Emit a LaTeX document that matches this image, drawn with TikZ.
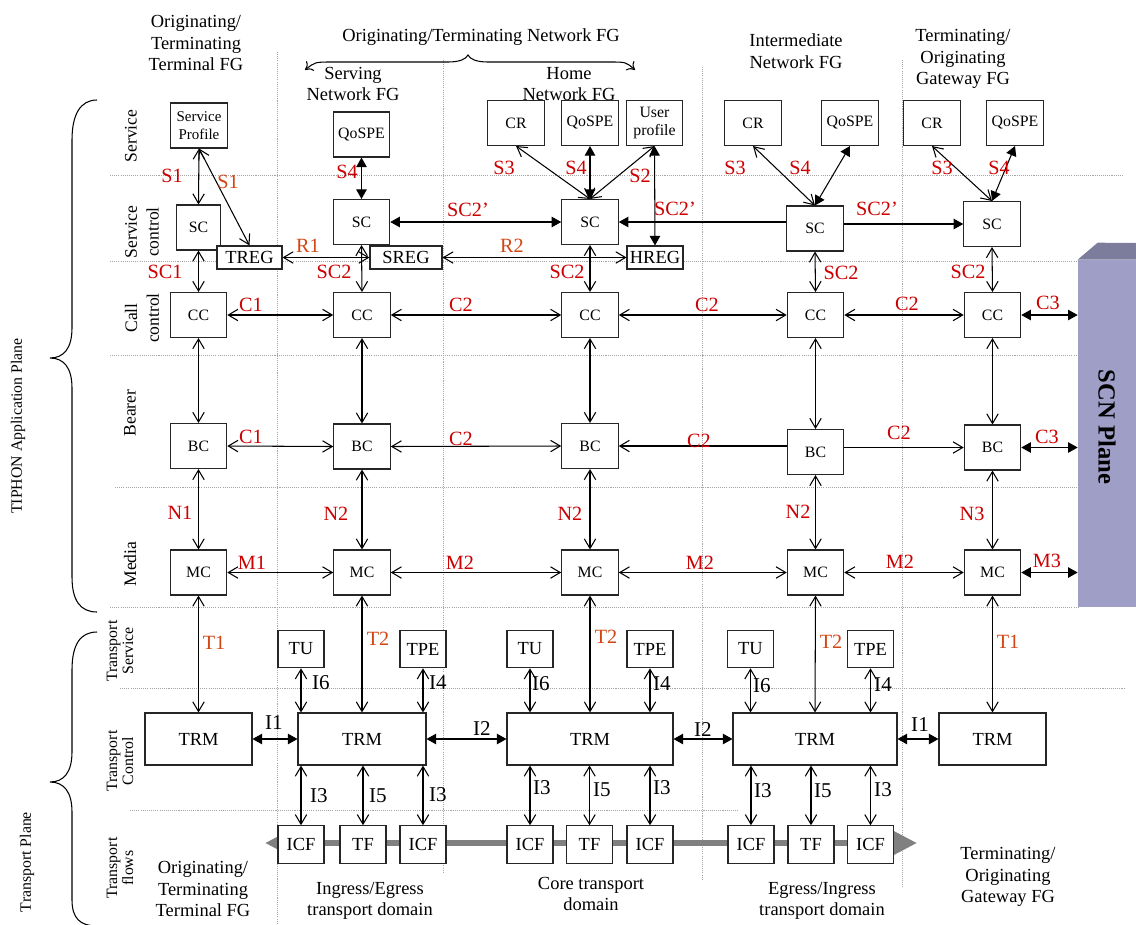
\documentclass[tikz,border=0pt]{standalone}
\usepackage{fontspec}
\setmainfont{Liberation Serif}
\usetikzlibrary{arrows.meta}

\definecolor{tiphonred}{RGB}{204,0,0}
\definecolor{tiphonorange}{RGB}{210,70,20}
\definecolor{scnfront}{RGB}{158,158,198}
\definecolor{scntop}{RGB}{124,124,156}

\tikzset{
  barb/.tip={Straight Barb[length=5.5pt,width=6.5pt]},
  tri/.tip={Triangle[length=5.5pt,width=6pt]},
  box/.style={draw=black!85, fill=white, line width=0.6pt, inner sep=0pt, align=center},
  fgbox/.style={box, font=\fontsize{9}{10.4}\selectfont, minimum width=1.13cm, minimum height=0.9cm},
  regbox/.style={box, font=\fontsize{10.5}{12}\selectfont, minimum height=0.46cm},
  tbox/.style={box, font=\fontsize{10.5}{12}\selectfont, minimum width=0.92cm, minimum height=0.75cm},
  trmbox/.style={box, font=\fontsize{10.5}{12}\selectfont, minimum height=1.04cm},
  lab/.style={font=\fontsize{11.5}{12}\selectfont, text=tiphonred, inner sep=0pt},
  olab/.style={lab, text=tiphonorange},
  ilab/.style={font=\fontsize{12}{12}\selectfont, inner sep=0pt},
  hdr/.style={font=\fontsize{10.5}{12.3}\selectfont, align=center, inner sep=0pt},
  rowlab/.style={font=\fontsize{10}{12.5}\selectfont, align=center, rotate=90, inner sep=0pt},
  trowlab/.style={font=\fontsize{9}{9}\selectfont, align=center, rotate=90, inner sep=0pt},
  gline/.style={black!35, line width=0.5pt, dash pattern=on 0.6pt off 0.6pt},
  link/.style={line width=0.6pt},
  oo/.style={link, barb-barb},
  ff/.style={link, tri-tri},
  bracepath/.style={line width=0.6pt},
  flowline/.style={black!50, line width=3.2pt, {Triangle[length=13.5pt,width=13pt]}-{Triangle[length=13.5pt,width=13pt]}}
}

\begin{document}
\begin{tikzpicture}[x=0.02cm, y=-0.02cm]
\useasboundingbox (0,0) rectangle (1136,924);

% Dotted grid
\foreach \y/\xa/\xb in {175/110/1123, 261/110/1078, 355/110/1078, 487/115/1078, 607/110/1078, 688/120/1125, 810/130/738}
  \draw[gline] (\xa,\y) -- (\xb,\y);
\foreach \x/\ya/\yb in {277/52/924, 443/60/873, 702/67/880, 902/60/887}
  \draw[gline] (\x,\ya) -- (\x,\yb);

% Plane braces
\draw[bracepath] (97,100) .. controls (80,100) and (72,115) .. (72,140) -- (72,328)
  .. controls (72,348) and (64,358) .. (50,358) .. controls (64,358) and (72,368) .. (72,388)
  -- (72,577) .. controls (72,600) and (80,612) .. (97,612);
\draw[bracepath] (97,632) .. controls (80,632) and (72,645) .. (72,670) -- (72,752)
  .. controls (72,772) and (64,782) .. (50,782) .. controls (64,782) and (72,792) .. (72,812)
  -- (72,900) .. controls (72,918) and (80,926) .. (97,926);
\node[font=\fontsize{9}{9}\selectfont, rotate=90] (appplane) at (18,426) {TIPHON Application Plane};
\node[font=\fontsize{9}{9}\selectfont, rotate=90] (trplane) at (27,862) {Transport Plane};

% Network FG brace
\draw[bracepath, {To[length=4pt,width=7pt]}-{To[length=4pt,width=7pt]}] (305,70) .. controls (315,62) .. (332,62) -- (448,62)
  .. controls (460,62) and (466,59) .. (468,55) .. controls (470,59) and (476,62) .. (488,62)
  -- (610,62) .. controls (626,62) .. (635,70);

% Headers
\node[hdr] (h1) at (196,43) {Originating/\\Terminating\\Terminal FG};
\node[hdr] (h2) at (481,37) {Originating/Terminating Network FG};
\node[hdr] (h3) at (353,84) {Serving\\Network FG};
\node[hdr] (h4) at (569,84) {Home\\Network FG};
\node[hdr] (h5) at (796,51) {Intermediate\\Network FG};
\node[hdr] (h6) at (963,59) {Terminating/\\Originating\\Gateway FG};

% Footers
\node[hdr] (f1) at (203,889) {Originating/\\Terminating\\Terminal FG};
\node[hdr] (f2) at (370,901) {Ingress/Egress\\transport domain};
\node[hdr] (f3) at (591,894) {Core transport\\domain};
\node[hdr] (f4) at (822,901) {Egress/Ingress\\transport domain};
\node[hdr] (f5) at (1008,877) {Terminating/\\Originating\\Gateway FG};

% Row labels
\node[rowlab] (rs) at (131,136) {Service};
\node[rowlab] (rsc) at (142,232) {Service\\control};
\node[rowlab] (rcc) at (142,318) {Call\\control};
\node[rowlab] (rbc) at (130,413) {Bearer};
\node[rowlab] (rmc) at (130,564) {Media};
\node[trowlab] (rts) at (120,651) {Transport\\Service};
\node[trowlab] (rtc) at (120,761) {Transport\\Control};
\node[trowlab] (rtf) at (120,868) {Transport\\flows};

% SCN plane
\node[fill=scnfront, inner sep=0pt, minimum width=1.16cm, minimum height=6.94cm] (scn) at (1107,433.5) {};
\fill[scntop] (scn.north west) -- ++(20,-17) -- (1136,243) -- (scn.north east) -- cycle;
\node[rotate=-90, font=\bfseries\fontsize{14}{16}\selectfont] (scntext) at (1107,427) {SCN Plane};

% Transport flow
\coordinate (flowL) at (265,843);
\coordinate (flowR) at (917,843);
\draw[flowline] (flowL) -- (flowR);

% Service row
\node[fgbox, font=\fontsize{8.5}{10.4}\selectfont] (sp) at (199,125.5) {Service\\Profile};
\node[fgbox] (qos2) at (361.5,134.5) {QoSPE};
\node[fgbox] (cr3) at (516,123) {CR};
\node[fgbox] (qos3) at (590,123) {QoSPE};
\node[fgbox] (up3) at (654.5,123) {User\\profile};
\node[fgbox] (cr4) at (753,123) {CR};
\node[fgbox] (qos4) at (850,123) {QoSPE};
\node[fgbox] (cr5) at (932,123) {CR};
\node[fgbox] (qos5) at (1015,123) {QoSPE};

% Service control row
\node[fgbox, minimum width=0.88cm] (sc1) at (198.5,227.5) {SC};
\node[fgbox] (sc2) at (361.5,222) {SC};
\node[fgbox] (sc3) at (590,222) {SC};
\node[fgbox] (sc4) at (815,228.5) {SC};
\node[fgbox] (sc5) at (992,224) {SC};
\node[regbox, minimum width=1.3cm] (treg) at (249.5,257.5) {TREG};
\node[regbox, minimum width=1.44cm] (sreg) at (406,257.5) {SREG};
\node[regbox, minimum width=1.12cm] (hreg) at (655,257.5) {HREG};

% Call control, bearer and media rows
\foreach \n/\x in {1/198.5, 2/362, 3/590, 4/815.5, 5/992.5} {
  \node[fgbox] (cc\n) at (\x,315) {CC};
  \node[fgbox] (mc\n) at (\x,572.5) {MC};
}
\foreach \n/\x/\y in {1/198.5/446, 2/362/446.5, 3/590/446, 4/815.5/452, 5/992.5/447.5}
  \node[fgbox] (bc\n) at (\x,\y) {BC};

% Transport rows
\foreach \n/\x in {2/301, 3/530, 4/750.5} \node[tbox] (tu\n) at (\x,649) {TU};
\foreach \n/\x in {2/423, 3/650, 4/870.5} \node[tbox] (tpe\n) at (\x,649) {TPE};
\foreach \n/\x/\w in {1/198.5/2.14, 2/362/2.56, 3/590/3.32, 4/815/3.28, 5/992.5/2.14}
  \node[trmbox, minimum width=\w cm] (trm\n) at (\x,739) {TRM};
\foreach \n/\xa/\xb/\xc in {2/301/363/423, 3/530/589.5/650, 4/751/811/870.5} {
  \node[tbox] (icfa\n) at (\xa,844.5) {ICF};
  \node[tbox] (tf\n) at (\xb,844.5) {TF};
  \node[tbox] (icfb\n) at (\xc,844.5) {ICF};
}

% Service plane links
\draw[oo] (sp.south) -- (sc1.north);
\draw[oo] (sp.south) -- (treg.north);
\draw[oo] (treg.east) -- (sreg.west);
\draw[oo] (sreg.east) -- (hreg.west);
\draw[ff] (qos2.south) -- (sc2.north);
\draw[ff] (sc2.east) -- (sc3.west);
\draw[oo] (cr3.south) -- (sc3.north);
\draw[ff] (qos3.south) -- (sc3.north);
\draw[oo] (up3.south) -- (sc3.north);
\draw[ff] (up3.south) -- (hreg.north);
\draw[link, -tri] (sc4.west |- sc3.east) -- (sc3.east);
\draw[oo] (cr4.south) -- (sc4.north);
\draw[ff] (qos4.south) -- (sc4.north);
\draw[link, -tri] (sc4.east |- sc5.west) -- (sc5.west);
\draw[oo] (cr5.south) -- (sc5.north);
\draw[ff] (qos5.south) -- (sc5.north);
\foreach \n in {1,...,5} \draw[oo] (sc\n.south) -- (cc\n.north);

% Call, bearer and media links
\foreach \a/\b in {1/2, 2/3, 3/4, 4/5} {
  \draw[oo] (cc\a.east) -- (cc\b.west);
  \draw[oo] (mc\a.east) -- (mc\b.west);
}
\draw[oo] (bc1.east) -- (bc2.west);
\draw[oo] (bc2.east) -- (bc3.west);
\draw[link, -barb] (bc4.west |- bc3.east) -- (bc3.east);
\draw[link, -barb] (bc4.east |- bc5.west) -- (bc5.west);
\foreach \r in {cc,bc,mc} \draw[ff] (\r5.east) -- (\r5.east -| scn.west);
\foreach \n in {1,...,5} {
  \draw[oo] (cc\n.south) -- (bc\n.north);
  \draw[oo] (bc\n.south) -- (mc\n.north);
  \draw[oo] (mc\n.south) -- (trm\n.north);
}

% Transport links
\foreach \a/\b in {1/2, 2/3, 3/4, 4/5} \draw[ff] (trm\a.east) -- (trm\b.west);
\foreach \n in {2,3,4} {
  \draw[oo] (tu\n.south) -- (tu\n.south |- trm\n.north);
  \draw[oo] (tpe\n.south) -- (tpe\n.south |- trm\n.north);
  \draw[oo] (icfa\n.north |- trm\n.south) -- (icfa\n.north);
  \draw[oo] (tf\n.north |- trm\n.south) -- (tf\n.north);
  \draw[oo] (icfb\n.north |- trm\n.south) -- (icfb\n.north);
}

% Reference point labels
\foreach \t/\x/\y [count=\i] in {S1/172/176, SC1/165/272, SC2/334/272, S4/347/172, SC2’/468/210,
    S3/504/168, S4/576/168, S2/640/176, SC2’/675/209, SC2/567/272, S3/735/168, S4/800/168,
    SC2’/877/209, SC2/841/273, S3/942/168, S4/999/168, SC2/968/272,
    C1/251/305, C2/461/305, C2/707/305, C2/907/304, C3/1048/303,
    C1/251/437, C2/461/439, C2/699/441, C2/899/433, C3/1047/437,
    N1/180/513, N2/336/514, N2/570/514, N2/798/512, N3/972/514,
    M1/252/563, M2/460/563, M2/700/563, M2/900/562, M3/1047/561}
  \node[lab] (r\i) at (\x,\y) {\t};
\foreach \t/\x/\y [count=\i] in {S1/228/182, R1/308/246, R2/512/246, T1/214/643, T2/378/639,
    T2/606/637, T2/831/642, T1/1008/642}
  \node[olab] (o\i) at (\x,\y) {\t};
\foreach \t/\x/\y [count=\i] in {I6/321/683, I4/438/683, I6/541/684, I4/662/684, I6/762/686,
    I4/883/685, I1/274/723, I2/482/729, I2/703/730, I1/920/725,
    I3/319/796, I5/378/796, I3/438/795, I3/542/788, I5/602/790, I3/662/788,
    I3/763/791, I5/823/791, I3/883/790}
  \node[ilab] (i\i) at (\x,\y) {\t};

\end{tikzpicture}
\end{document}
